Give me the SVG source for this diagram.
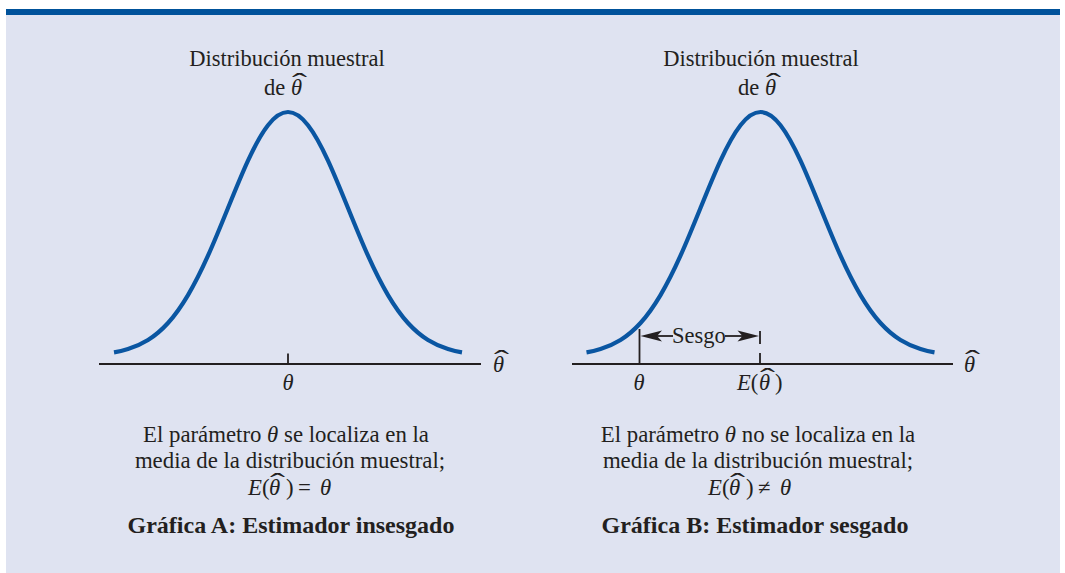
<svg xmlns="http://www.w3.org/2000/svg" width="1065" height="573" viewBox="0 0 1065 573">
<defs>
<style>
.bg{fill:#dfe3f1}
.bar{fill:#00529b}
.curve{fill:none;stroke:#0a56a2;stroke-width:4.2;stroke-linecap:butt;stroke-linejoin:round}
.axis{stroke:#231f20;stroke-width:2;fill:none}
.tick{stroke:#231f20;stroke-width:1.8;fill:none}
.t{font-family:"Liberation Serif","Times New Roman",serif;font-size:22.5px;fill:#231f20;text-anchor:middle}
.s{font-size:22.8px}
.l{text-anchor:start}
.i{font-style:italic}
.b{font-weight:bold;font-size:24px}
.hat{font-family:"Liberation Serif","Times New Roman",serif;font-size:30px;fill:#231f20;text-anchor:middle}
.ah{fill:#231f20}
</style>
<path id="bell" d="M114,352.4 C118.67,351.58 123.33,350.45 128,349 C134.67,346.93 141.33,344.16 148,340 C154.67,335.84 161.33,330.34 168,323 C174.67,315.66 181.33,306.37 188,295.1 C194.67,283.83 201.33,270.56 208,255.7 C214.67,240.84 221.33,224.44 228,208 C234.67,191.56 241.33,175.07 248,160.6 C254.67,146.13 261.33,133.75 268,125.2 C274.67,116.65 281.33,112 288,112 C294.67,112 301.33,116.65 308,125.2 C314.67,133.75 321.33,146.13 328,160.6 C334.67,175.07 341.33,191.56 348,208 C354.67,224.44 361.33,240.84 368,255.7 C374.67,270.56 381.33,283.83 388,295.1 C394.67,306.37 401.33,315.66 408,323 C414.67,330.34 421.33,335.84 428,340 C434.67,344.16 441.33,346.93 448,349 C452.67,350.45 457.33,351.58 462,352.4"/>
</defs>
<rect x="0" y="0" width="1065" height="573" fill="#ffffff"/>
<rect class="bg" x="6" y="15" width="1054" height="558"/>
<rect class="bar" x="6" y="9" width="1054" height="6"/>

<g id="graficaA">
<use href="#bell" class="curve"/>
<line class="axis" x1="99" y1="364" x2="481" y2="364"/>
<line class="tick" x1="288" y1="353.5" x2="288" y2="364"/>
<text class="t" x="287" y="66">Distribución muestral</text>
<text class="t l" y="95"><tspan x="264">de</tspan><tspan x="291" class="i">θ</tspan></text>
<text class="hat" transform="translate(299.5,90.5) scale(1.5,0.85)">ˆ</text>
<text class="t i" x="288" y="390">θ</text>
<text class="t i l" x="493" y="372">θ</text>
<text class="hat" transform="translate(501.5,367.5) scale(1.5,0.85)">ˆ</text>
<text class="t s" x="286" y="442">El parámetro <tspan class="i">θ</tspan> se localiza en la</text>
<text class="t s" x="290" y="468">media de la distribución muestral;</text>
<text class="t s l" y="495"><tspan x="248" class="i">E</tspan><tspan>(</tspan><tspan x="269" class="i">θ</tspan><tspan x="286">)</tspan><tspan x="298">=</tspan><tspan x="320" class="i">θ</tspan></text>
<text class="hat" transform="translate(277.5,490.5) scale(1.5,0.85)">ˆ</text>
<text class="t b" x="291" y="533">Gráfica A: Estimador insesgado</text>
</g>

<g id="graficaB">
<use href="#bell" class="curve" transform="translate(472.5,0)"/>
<line class="axis" x1="572" y1="364" x2="953" y2="364"/>
<text class="t" x="761" y="66">Distribución muestral</text>
<text class="t l" y="95"><tspan x="738">de</tspan><tspan x="765" class="i">θ</tspan></text>
<text class="hat" transform="translate(773.5,90.5) scale(1.5,0.85)">ˆ</text>
<text class="t i" x="639" y="390">θ</text>
<text class="t l" y="390"><tspan x="737" class="i">E</tspan><tspan>(</tspan><tspan x="759" class="i">θ</tspan><tspan x="775">)</tspan></text>
<text class="hat" transform="translate(767.5,385.5) scale(1.5,0.85)">ˆ</text>
<text class="t i l" x="964" y="372">θ</text>
<text class="hat" transform="translate(972.5,367.5) scale(1.5,0.85)">ˆ</text>
<text class="t s" x="758" y="442">El parámetro <tspan class="i">θ</tspan> no se localiza en la</text>
<text class="t s" x="758" y="468">media de la distribución muestral;</text>
<text class="t s l" y="495"><tspan x="708" class="i">E</tspan><tspan>(</tspan><tspan x="729" class="i">θ</tspan><tspan x="746">)</tspan><tspan x="758">≠</tspan><tspan x="780" class="i">θ</tspan></text>
<text class="hat" transform="translate(737.5,490.5) scale(1.5,0.85)">ˆ</text>
<text class="t b" x="755" y="533">Gráfica B: Estimador sesgado</text>
</g>

<g id="connectors">
<line class="tick" x1="639.5" y1="329" x2="639.5" y2="364"/>
<line class="tick" x1="760" y1="331" x2="760" y2="364" stroke-dasharray="13 9"/>
<line class="tick" x1="655" y1="336" x2="673" y2="336"/>
<line class="tick" x1="725" y1="336" x2="745" y2="336"/>
<path class="ah" d="M640.5,336 L662,330.5 L657,336 L662,341.5 Z"/>
<path class="ah" d="M759,336 L737.5,330.5 L742.5,336 L737.5,341.5 Z"/>
<text class="t" x="699" y="343">Sesgo</text>
</g>
</svg>
